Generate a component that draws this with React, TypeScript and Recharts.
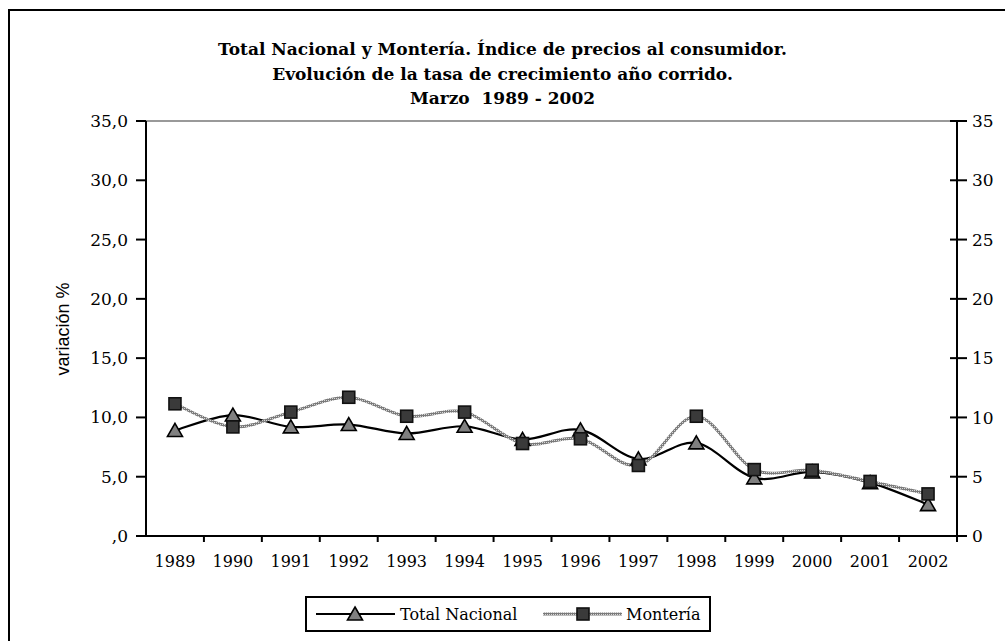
import React from 'react';
import { LineChart, Line, XAxis, YAxis, ReferenceLine } from 'recharts';

const years = ['1989', '1990', '1991', '1992', '1993', '1994', '1995', '1996', '1997', '1998', '1999', '2000', '2001', '2002'];
const totalNacional = [8.9, 10.2, 9.2, 9.4, 8.65, 9.25, 8.15, 8.95, 6.5, 7.85, 4.9, 5.4, 4.5, 2.65];
const monteria = [11.15, 9.2, 10.45, 11.7, 10.1, 10.45, 7.8, 8.2, 5.95, 10.1, 5.6, 5.55, 4.6, 3.55];
const yTicks = [0, 5, 10, 15, 20, 25, 30, 35];
const titleLines = [
  'Total Nacional y Montería. Índice de precios al consumidor.',
  'Evolución de la tasa de crecimiento año corrido.',
  'Marzo  1989 - 2002',
];

const data = years.map((y, i) => ({ year: y, tn: totalNacional[i], mo: monteria[i] }));

const SERIF = '"DejaVu Serif", serif';

// Excel-like smoothed line (Catmull-Rom as cubic Bezier)
const smoothCurve: any = (context: any) => {
  let pts: number[][] = [];
  return {
    areaStart() {},
    areaEnd() {},
    lineStart() {
      pts = [];
    },
    lineEnd() {
      if (!pts.length) return;
      context.moveTo(pts[0][0], pts[0][1]);
      for (let i = 0; i < pts.length - 1; i++) {
        const p0 = pts[i - 1] || pts[i];
        const p1 = pts[i];
        const p2 = pts[i + 1];
        const p3 = pts[i + 2] || p2;
        context.bezierCurveTo(
          p1[0] + (p2[0] - p0[0]) / 6,
          p1[1] + (p2[1] - p0[1]) / 6,
          p2[0] - (p3[0] - p1[0]) / 6,
          p2[1] - (p3[1] - p1[1]) / 6,
          p2[0],
          p2[1]
        );
      }
    },
    point(x: number, y: number) {
      pts.push([+x, +y]);
    },
  };
};

const Triangle = ({ cx, cy }: { cx: number; cy: number }) => (
  <polygon
    points={`${cx},${cy - 7} ${cx + 7.5},${cy + 6} ${cx - 7.5},${cy + 6}`}
    fill="#808080"
    stroke="#000"
    strokeWidth={1.6}
    strokeLinejoin="miter"
  />
);

const Square = ({ cx, cy }: { cx: number; cy: number }) => (
  <rect x={cx - 6} y={cy - 6} width={12} height={12} fill="#3a3a3a" stroke="#111" strokeWidth={1.6} />
);

const triDot = (p: any) => (p.cx == null ? <g key={p.index} /> : <Triangle key={`t${p.index}`} cx={p.cx} cy={p.cy} />);
const sqDot = (p: any) => (p.cx == null ? <g key={p.index} /> : <Square key={`s${p.index}`} cx={p.cx} cy={p.cy} />);

const XTick = (props: any) => {
  const { x, y, payload, width, visibleTicksCount } = props;
  const band = width && visibleTicksCount ? width / visibleTicksCount : 811 / 14;
  const axisY = y - 8;
  return (
    <g>
      <line x1={x + band / 2} x2={x + band / 2} y1={axisY} y2={axisY + 6} stroke="#000" strokeWidth={2} />
      <text x={x} y={axisY + 31} textAnchor="middle" fontFamily={SERIF} fontSize={16} fill="#000">
        {payload.value}
      </text>
    </g>
  );
};

// right axis tick: line crossing the axis, label to the right
const RTick = (props: any) => {
  const { x, y, payload } = props;
  const axisX = x - 12;
  return (
    <g>
      <line x1={axisX - 7} x2={axisX + 10} y1={y} y2={y} stroke="#000" strokeWidth={2} />
      <text x={x + 3} y={y} dy="0.36em" textAnchor="start" fontFamily={SERIF} fontSize={17} fill="#000">
        {payload.value}
      </text>
    </g>
  );
};

const leftFmt = (v: number) => (v === 0 ? ',0' : v.toFixed(1).replace('.', ','));

export default function App() {
  return (
    <div style={{ position: 'fixed', left: 0, top: 0, width: 1005, height: 641, background: '#fff', overflow: 'hidden' }}>
      <svg width={0} height={0} style={{ position: 'absolute' }}>
        <defs>
          <pattern id="hatch" patternUnits="userSpaceOnUse" width={2} height={2}>
            <rect x={0} y={0} width={2} height={2} fill="#7a7a7a" />
            <rect x={0} y={0} width={1} height={1} fill="#d8d8d8" />
          </pattern>
        </defs>
      </svg>
      <div
        style={{
          position: 'absolute',
          left: 7.5,
          top: 8.5,
          width: 1010,
          height: 650,
          border: '2.5px solid #000',
          boxSizing: 'border-box',
        }}
      />
      {titleLines.map((t, i) => (
        <div
          key={i}
          style={{
            position: 'absolute',
            left: 0,
            width: 1005,
            top: 39 + i * 24.5,
            textAlign: 'center',
            fontFamily: SERIF,
            fontWeight: 'bold',
            fontSize: 17,
            lineHeight: '20px',
            whiteSpace: 'pre',
            color: '#000',
          }}
        >
          {t}
        </div>
      ))}
      <div
        style={{
          position: 'absolute',
          left: 63,
          top: 329,
          transform: 'translate(-50%, -50%) rotate(-90deg)',
          fontFamily: '"Liberation Sans", Arial, sans-serif',
          fontSize: 18,
          whiteSpace: 'nowrap',
          color: '#000',
        }}
      >
        variación %
      </div>
      <div style={{ position: 'absolute', left: 0, top: 0 }}>
        <LineChart width={1005} height={641} data={data} margin={{ top: 121, right: 0, left: 86, bottom: 75 }}>
          <XAxis
            dataKey="year"
            scale="band"
            height={30}
            axisLine={{ stroke: '#000', strokeWidth: 2 }}
            tickLine={false}
            tickSize={6}
            tickMargin={2}
            tick={<XTick />}
            interval={0}
          />
          <YAxis
            yAxisId="l"
            orientation="left"
            width={60}
            domain={[0, 35]}
            ticks={yTicks}
            interval={0}
            tickFormatter={leftFmt}
            axisLine={{ stroke: '#000', strokeWidth: 2 }}
            tickLine={{ stroke: '#000', strokeWidth: 2 }}
            tickSize={10}
            tickMargin={8}
            tick={{ fontFamily: SERIF, fontSize: 17, fill: '#000' }}
          />
          <YAxis
            yAxisId="r"
            orientation="right"
            width={48}
            domain={[0, 35]}
            ticks={yTicks}
            interval={0}
            axisLine={{ stroke: '#000', strokeWidth: 2 }}
            tickLine={false}
            tickSize={10}
            tickMargin={2}
            tick={<RTick />}
          />
          <ReferenceLine yAxisId="l" y={35} stroke="#999" strokeWidth={2} />
          <Line
            yAxisId="l"
            dataKey="tn"
            name="Total Nacional"
            type={smoothCurve}
            stroke="#000"
            strokeWidth={2.2}
            dot={triDot}
            activeDot={false}
            isAnimationActive={false}
          />
          <Line
            yAxisId="r"
            dataKey="mo"
            name="Montería"
            type={smoothCurve}
            stroke="url(#hatch)"
            strokeWidth={3}
            dot={sqDot}
            activeDot={false}
            isAnimationActive={false}
          />
        </LineChart>
      </div>
      <div
        style={{
          position: 'absolute',
          left: 305,
          top: 596,
          width: 406,
          height: 36,
          border: '2px solid #000',
          boxSizing: 'border-box',
          background: '#fff',
        }}
      >
        <svg width={402} height={32} style={{ position: 'absolute', left: 0, top: 0 }}>
          <line x1={9} x2={88} y1={16} y2={16} stroke="#000" strokeWidth={2.2} />
          <Triangle cx={48} cy={16} />
          <text x={93} y={21.5} fontFamily={SERIF} fontSize={16} fill="#000">
            Total Nacional
          </text>
          <line x1={236} x2={315} y1={16} y2={16} stroke="url(#hatch)" strokeWidth={3} />
          <Square cx={276} cy={16} />
          <text x={319} y={21.5} fontFamily={SERIF} fontSize={16} fill="#000">
            Montería
          </text>
        </svg>
      </div>
    </div>
  );
}
